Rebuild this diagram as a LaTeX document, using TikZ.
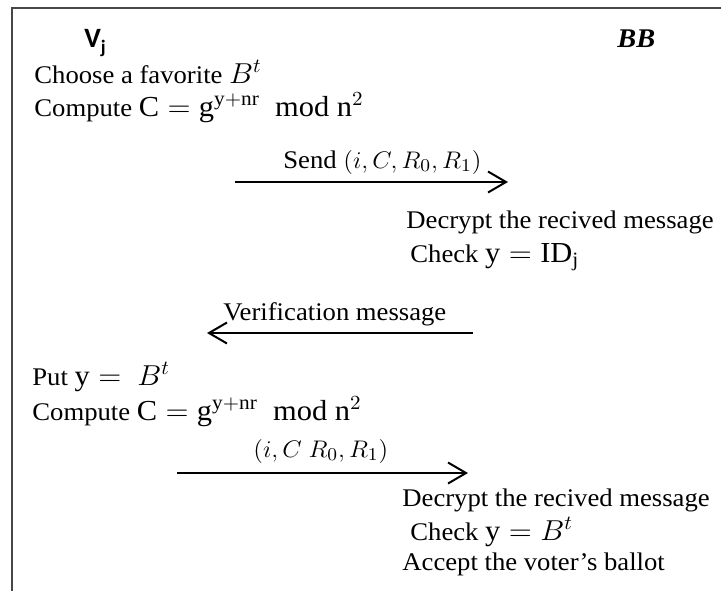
\documentclass[tikz,border=0pt]{standalone}
\usepackage{fontspec}
\setmainfont{Liberation Serif}
\newfontfamily\calibrifont{Carlito}
\usetikzlibrary{arrows.meta}
\newcommand{\hstretch}[1]{\scalebox{1.05}[1]{#1}}
\newcommand{\bigmath}[1]{{\fontsize{14.5}{16}\selectfont$#1$}}
\tikzset{
  txt/.style={anchor=base west, inner sep=0pt, font=\fontsize{12.7}{14}\selectfont},
  msg/.style={line width=1pt, -{Straight Barb[length=9pt,width=10.5pt,line width=1pt]}},
  frameline/.style={draw=black!72, line width=1pt}
}
\begin{document}
\begin{tikzpicture}[x=0.5pt,y=-0.5pt]
\useasboundingbox (0,0) rectangle (721,591);
% frame (top and left only)
\coordinate (fbl) at (12,591);
\coordinate (ftl) at (12,8);
\coordinate (ftr) at (721,8);
\draw[frameline] (fbl) -- (ftl) -- (ftr);
% headers
\node[anchor=base west, inner sep=0pt] (vj) at (84,47)
  {\fontsize{14}{16}\calibrifont\bfseries V\raisebox{-0.22em}{\fontsize{9.5}{10}\selectfont j}};
\node[anchor=base west, inner sep=0pt] (bb) at (617,47)
  {\hstretch{\fontsize{13.5}{15}\selectfont\bfseries\itshape BB}};
% voter side 1
\node[txt] (t1) at (34,83) {\hstretch{Choose a favorite \bigmath{B^t}}};
\node[txt] (t2) at (34,116) {\hstretch{Compute \bigmath{\mathrm{C}=\mathrm{g}^{\mathrm{y+nr}}\ \ \mathrm{mod}\ \mathrm{n}^2}}};
% message 1
\node[txt] (l1) at (283,168) {\hstretch{Send $(i,C,R_0,R_1)$}};
\coordinate (a1s) at (235,182);
\coordinate (a1e) at (508,182);
\draw[msg] (a1s) -- (a1e);
% BB side 1
\node[txt] (b1) at (406,228) {\hstretch{Decrypt the recived message}};
\node[txt] (b2) at (410,262) {\hstretch{Check \bigmath{\mathrm{y}=\mathrm{ID_j}}}};
% message 2
\node[txt] (l2) at (223,320) {\hstretch{Verification message}};
\coordinate (a2s) at (473,333);
\coordinate (a2e) at (207,333);
\draw[msg] (a2s) -- (a2e);
% voter side 2
\node[txt] (t3) at (32,385) {\hstretch{Put \bigmath{\mathrm{y}=\ B^t}}};
\node[txt] (t4) at (32,420) {\hstretch{Compute \bigmath{\mathrm{C}=\mathrm{g}^{\mathrm{y+nr}}\ \ \mathrm{mod}\ \mathrm{n}^2}}};
% message 3
\node[txt] (l3) at (253,457) {\hstretch{$(i,C\ R_0,R_1)$}};
\coordinate (a3s) at (177,473);
\coordinate (a3e) at (468,473);
\draw[msg] (a3s) -- (a3e);
% BB side 2
\node[txt] (b3) at (402,506) {\hstretch{Decrypt the recived message}};
\node[txt] (b4) at (410,540) {\hstretch{Check \bigmath{\mathrm{y}=B^t}}};
\node[txt] (b5) at (402,570) {\hstretch{Accept the voter's ballot}};
\end{tikzpicture}
\end{document}
